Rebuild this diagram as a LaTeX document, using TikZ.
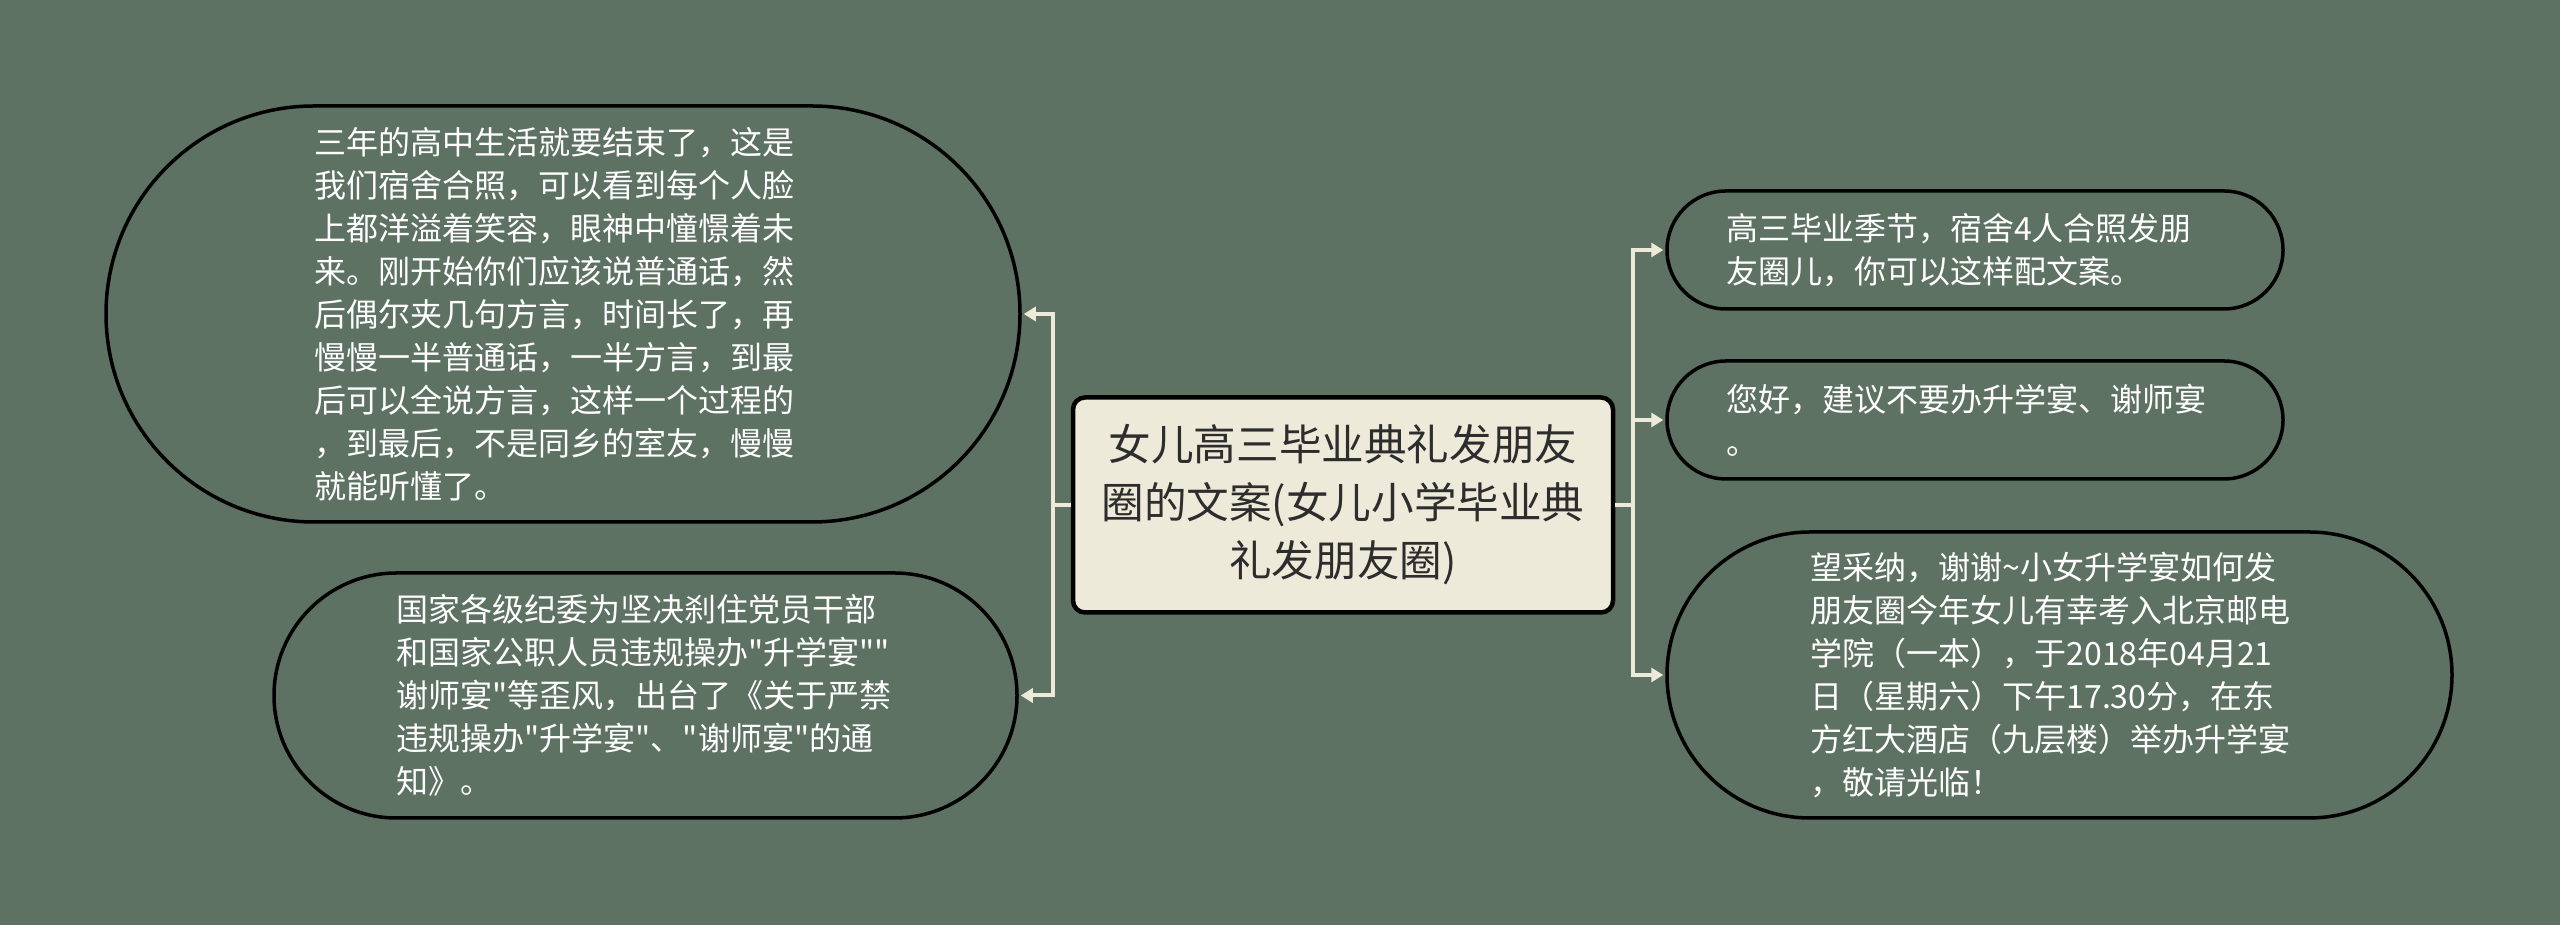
\documentclass[tikz,border=0pt]{standalone}
\usepackage{fontspec}
\newfontfamily\cjk{Noto Sans CJK SC}
\usetikzlibrary{arrows.meta}
\definecolor{bgback}{RGB}{94,114,99}
\definecolor{cream}{RGB}{238,234,218}
\definecolor{inkdark}{RGB}{45,45,45}

\begin{document}
\begin{tikzpicture}[x=0.5pt,y=0.5pt]
\tikzstyle{topic}=[draw=black, line width=2.25pt, fill=cream, rounded corners=6pt, minimum width=270pt, minimum height=107.5pt, inner sep=0pt, align=center, text=inkdark, font=\cjk\fontsize{21.3pt}{29pt}\selectfont]
\tikzstyle{leaf}=[draw=black, line width=1.75pt, inner sep=0pt, text width=249pt, align=left, text=white, font=\cjk\fontsize{16pt}{21.5pt}\selectfont]
\tikzstyle{link}=[draw=cream, line width=2pt]
\tikzstyle{arrow}=[link, shorten >=1pt, -{Triangle[length=6pt,width=7pt]}]

\fill[bgback] (0,0) rectangle (2560,925);

\node[topic] (root) at (1343,420) {女儿高三毕业典礼发朋友\\圈的文案(女儿小学毕业典\\礼发朋友圈)};

% left side
\node[leaf, minimum width=457pt, minimum height=208pt, rounded corners=104pt] (l1) at (563,611) {三年的高中生活就要结束了，这是\\我们宿舍合照，可以看到每个人脸\\上都洋溢着笑容，眼神中憧憬着未\\来。刚开始你们应该说普通话，然\\后偶尔夹几句方言，时间长了，再\\慢慢一半普通话，一半方言，到最\\后可以全说方言，这样一个过程的\\，到最后，不是同乡的室友，慢慢\\就能听懂了。};
\node[leaf, minimum width=371.5pt, minimum height=122.5pt, rounded corners=61.25pt] (l2) at (645.5,229.5) {国家各级纪委为坚决刹住党员干部\\和国家公职人员违规操办"升学宴""\\谢师宴"等歪风，出台了《关于严禁\\违规操办"升学宴"、"谢师宴"的通\\知》。};

% right side
\node[leaf, minimum width=308pt, minimum height=59pt, rounded corners=29.5pt] (r1) at (1975,675) {高三毕业季节，宿舍4人合照发朋\\友圈儿，你可以这样配文案。};
\node[leaf, minimum width=308pt, minimum height=59pt, rounded corners=29.5pt] (r2) at (1975,505) {您好，建议不要办升学宴、谢师宴\\。};
\node[leaf, minimum width=392.5pt, minimum height=143pt, rounded corners=71.5pt] (r3) at (2059.5,250) {望采纳，谢谢\textasciitilde 小女升学宴如何发\\朋友圈今年女儿有幸考入北京邮电\\学院（一本），于2018年04月21\\日（星期六）下午17.30分，在东\\方红大酒店（九层楼）举办升学宴\\，敬请光临！};

\coordinate (lj) at (1053,420);
\coordinate (rj) at (1633,420);

\draw[link] (root.west) -- (lj);
\draw[arrow] (lj) |- (l1.east);
\draw[arrow] (lj) |- (l2.east);

\draw[link] (root.east) -- (rj);
\draw[arrow] (rj) |- (r1.west);
\draw[arrow] (rj) |- (r2.west);
\draw[arrow] (rj) |- (r3.west);
\end{tikzpicture}
\end{document}
